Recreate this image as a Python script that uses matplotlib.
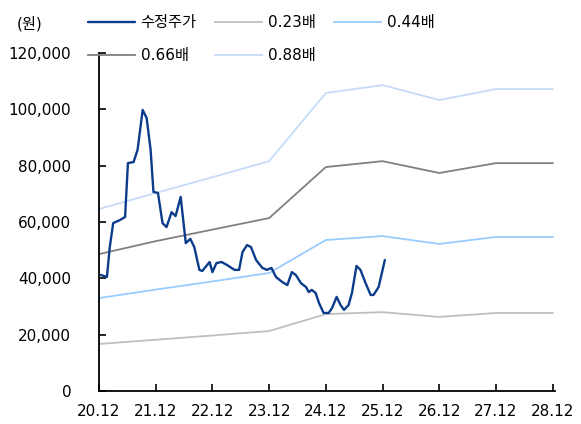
import matplotlib
matplotlib.use("Agg")
import matplotlib.pyplot as plt
from matplotlib.ticker import FuncFormatter

plt.rcParams['font.family'] = ['DejaVu Sans', 'Noto Sans CJK KR']

# x positions are years since Dec 2020 (0 = 20.12, 1 = 21.12, ...)
year_labels = ["20.12", "21.12", "22.12", "23.12", "24.12", "25.12", "26.12", "27.12", "28.12"]
band_t = [0, 1, 2, 3, 4, 5, 6, 7, 8]

# PBR band lines (원)
band_023 = [16700, 18200, 19700, 21300, 27300, 28000, 26300, 27700, 27700]
band_044 = [33000, 36000, 38900, 41900, 53600, 55000, 52200, 54700, 54700]
band_066 = [48600, 53200, 57300, 61400, 79500, 81600, 77400, 80900, 80900]
band_088 = [64600, 70300, 75900, 81600, 105800, 108600, 103300, 107200, 107200]

# adjusted share price (수정주가)
price_t = [0.03, 0.14, 0.19, 0.25, 0.37, 0.46, 0.51, 0.61, 0.68, 0.77,
           0.84, 0.91, 0.96, 1.04, 1.12, 1.19, 1.28, 1.35, 1.44, 1.53,
           1.61, 1.68, 1.77, 1.82, 1.95, 2.00, 2.07, 2.16, 2.26, 2.39,
           2.47, 2.53, 2.61, 2.68, 2.77, 2.88, 2.96, 3.04, 3.12, 3.23,
           3.32, 3.40, 3.47, 3.56, 3.65, 3.70, 3.75, 3.82, 3.88, 3.96,
           4.05, 4.11, 4.19, 4.26, 4.32, 4.40, 4.46, 4.54, 4.61, 4.70,
           4.79, 4.84, 4.93, 5.04]
price = [41200, 40500, 51100, 59600, 60700, 61800, 80900, 81300, 85600, 99800,
         96900, 85600, 70700, 70300, 59600, 58200, 63500, 62100, 68900, 52500,
         54000, 51100, 43000, 42600, 45800, 42200, 45400, 45800, 44700, 43000,
         43000, 49300, 51800, 51100, 46500, 43700, 43000, 43700, 40500, 38700,
         37600, 42200, 41200, 38300, 36900, 35100, 35900, 34800, 31200, 27700,
         27700, 29500, 33400, 30500, 28800, 30500, 34800, 44400, 43000, 38300,
         34100, 34100, 36900, 46500]

fig = plt.figure(figsize=(5.81, 4.24), dpi=100)
ax = fig.add_axes([99 / 581, 1 - 391 / 424, 456 / 581, 338 / 424])

l_price, = ax.plot(price_t, price, color='#0B3C8C', lw=1.7,
                   solid_joinstyle='round', solid_capstyle='round', zorder=5)
l023, = ax.plot(band_t, band_023, color='#BFBFBF', lw=1.3)
l044, = ax.plot(band_t, band_044, color='#99CCFF', lw=1.3)
l066, = ax.plot(band_t, band_066, color='#808080', lw=1.3)
l088, = ax.plot(band_t, band_088, color='#C6DBF7', lw=1.3)

ax.set_xlim(0, 8.04)
ax.set_ylim(0, 120000)
ax.set_xticks(band_t)
ax.set_xticklabels(year_labels)
ax.set_yticks(range(0, 120001, 20000))
ax.yaxis.set_major_formatter(FuncFormatter(lambda v, p: f"{int(v):,}"))

for s in ['top', 'right']:
    ax.spines[s].set_visible(False)
for s in ['left', 'bottom']:
    ax.spines[s].set_linewidth(1.3)
    ax.spines[s].set_color('black')
ax.tick_params(axis='x', direction='in', length=5, width=1.2, pad=9, labelsize=11)
ax.tick_params(axis='y', direction='in', length=5, width=1.2, pad=20, labelsize=11)

# legend: handles ordered so rows read 수정주가/0.23배/0.44배 then 0.66배/0.88배
fig.legend([l_price, l066, l023, l088, l044],
           ["수정주가", "0.66배", "0.23배", "0.88배", "0.44배"],
           ncol=3, loc='upper left', bbox_to_anchor=(88 / 581, 1 - 15 / 424),
           frameon=False, fontsize=11, handlelength=3.1, handletextpad=0.35,
           columnspacing=1.2, labelspacing=1.2, borderpad=0, borderaxespad=0)

fig.text(17 / 581, 1 - 24 / 424, "(원)", fontsize=11, va='center', ha='left')

fig.savefig("out.png", dpi=100)
